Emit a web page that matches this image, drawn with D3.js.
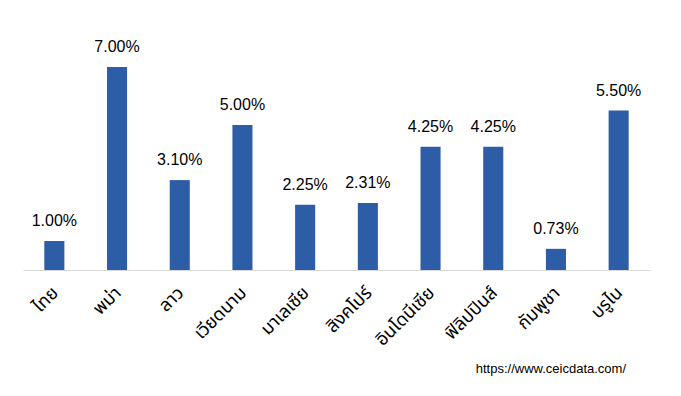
<!DOCTYPE html>
<html>
<head>
<meta charset="utf-8">
<script src="https://cdn.jsdelivr.net/npm/d3@7"></script>
<style>
  body { margin: 0; background: #fff; }
  svg { font-family: "Liberation Sans", Arial, sans-serif; }
</style>
</head>
<body>
<script>
// Countries and their rates (%)
const countries = ['ไทย', 'พม่า', 'ลาว', 'เวียดนาม', 'มาเลเซีย', 'สิงคโปร์', 'อินโดนีเซีย', 'ฟิลิปปินส์', 'กัมพูชา', 'บรูไน'];
const rates = [1.00, 7.00, 3.10, 5.00, 2.25, 2.31, 4.25, 4.25, 0.73, 5.50];

const svgWidth = 681;
const svgHeight = 396;
const margin = { top: 67, right: 31, bottom: 126, left: 23 };
const width = svgWidth - margin.left - margin.right;
const height = svgHeight - margin.top - margin.bottom;

const data = countries.map((c, i) => ({ country: c, rate: rates[i] }));

const svg = d3.select('body')
  .append('svg')
  .attr('width', svgWidth)
  .attr('height', svgHeight);

const g = svg.append('g')
  .attr('transform', `translate(${margin.left},${margin.top})`);

const xScale = d3.scaleBand()
  .domain(countries)
  .range([0, width])
  .paddingInner(0.68)
  .paddingOuter(0.34);

const yScale = d3.scaleLinear()
  .domain([0, 7])
  .range([height, 0]);

// Bars
g.selectAll('.bar')
  .data(data)
  .enter()
  .append('rect')
  .attr('class', 'bar')
  .attr('x', d => xScale(d.country))
  .attr('y', d => yScale(d.rate))
  .attr('width', xScale.bandwidth())
  .attr('height', d => height - yScale(d.rate))
  .attr('fill', '#2e5da8');

// Value labels
g.selectAll('.label')
  .data(data)
  .enter()
  .append('text')
  .attr('class', 'label')
  .attr('x', d => xScale(d.country) + xScale.bandwidth() / 2)
  .attr('y', d => yScale(d.rate) - 15)
  .attr('text-anchor', 'middle')
  .attr('font-size', 16)
  .attr('fill', '#000')
  .text(d => d.rate.toFixed(2) + '%');

// X axis
const xAxis = d3.axisBottom(xScale).tickSize(0).tickPadding(0);
const axisG = g.append('g')
  .attr('transform', `translate(0,${height})`)
  .call(xAxis);
axisG.select('.domain').attr('stroke', '#d9d9d9');
axisG.selectAll('.tick text')
  .attr('font-family', '"Noto Sans Thai", "Noto Sans", "DejaVu Sans", sans-serif')
  .attr('font-size', 18)
  .attr('fill', '#000')
  .attr('text-anchor', 'end')
  .attr('dy', 0)
  .attr('transform', 'translate(5,24) rotate(-45)');

// Source
svg.append('text')
  .attr('x', 626)
  .attr('y', 373)
  .attr('text-anchor', 'end')
  .attr('font-size', 13)
  .attr('fill', '#000')
  .text('https://www.ceicdata.com/');
</script>
</body>
</html>
